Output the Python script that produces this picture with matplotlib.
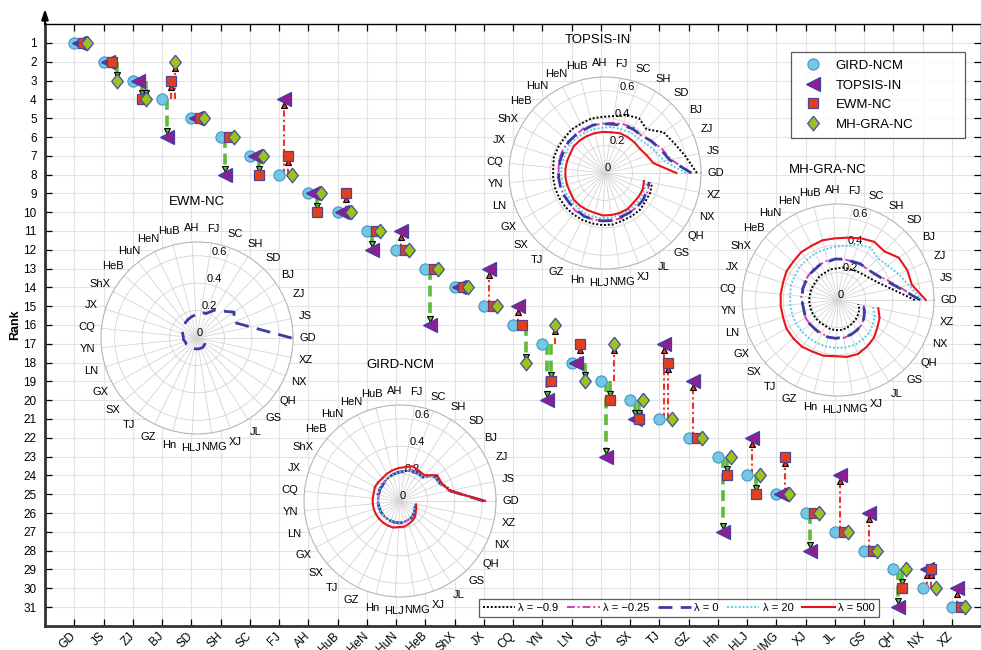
import numpy as np
import matplotlib.pyplot as plt
import matplotlib.transforms as mtransforms
from matplotlib.lines import Line2D

plt.rcParams['font.family'] = ['Liberation Sans', 'DejaVu Sans']

# 省份顺序（按 GIRD-NCM 排名）
provinces = ['GD', 'JS', 'ZJ', 'BJ', 'SD', 'SH', 'SC', 'FJ', 'AH', 'HuB', 'HeN',
             'HuN', 'HeB', 'ShX', 'JX', 'CQ', 'YN', 'LN', 'GX', 'SX', 'TJ', 'GZ',
             'Hn', 'HLJ', 'NMG', 'XJ', 'JL', 'GS', 'QH', 'NX', 'XZ']

# 各方法排名
rank_gird = [1, 2, 3, 4, 5, 6, 7, 8, 9, 10, 11, 12, 13, 14, 15, 16, 17, 18, 19, 20,
             21, 22, 23, 24, 25, 26, 27, 28, 29, 30, 31]
rank_topsis = [1, 2, 3, 6, 5, 8, 7, 4, 9, 10, 12, 11, 16, 14, 13, 15, 20, 18, 23, 21,
               17, 19, 27, 22, 25, 28, 24, 26, 31, 29, 30]
rank_ewm = [1, 2, 4, 3, 5, 6, 8, 7, 10, 9, 11, 12, 13, 14, 15, 16, 19, 17, 20, 21,
            18, 22, 24, 25, 23, 26, 27, 28, 30, 29, 31]
rank_mh = [1, 3, 4, 2, 5, 6, 7, 8, 9, 10, 11, 12, 13, 14, 15, 18, 16, 19, 17, 20,
           21, 22, 23, 24, 25, 26, 27, 28, 29, 30, 31]

# 雷达图数据（不同 λ 下的贴近度）
topsis_m09 = [0.67, 0.60, 0.55, 0.52, 0.44, 0.47, 0.45, 0.42, 0.41, 0.41, 0.40, 0.40, 0.39, 0.39, 0.39, 0.38,
              0.38, 0.38, 0.38, 0.38, 0.38, 0.38, 0.38, 0.38, 0.38, 0.37, 0.37, 0.37, 0.36, 0.36, 0.35]
topsis_m025 = [0.63, 0.49, 0.45, 0.41, 0.38, 0.39, 0.38, 0.37, 0.36, 0.36, 0.36, 0.35, 0.35, 0.35, 0.35, 0.34,
               0.34, 0.34, 0.34, 0.34, 0.35, 0.35, 0.35, 0.35, 0.35, 0.35, 0.34, 0.34, 0.34, 0.34, 0.33]
topsis_0 = [0.63, 0.48, 0.44, 0.41, 0.38, 0.38, 0.37, 0.36, 0.36, 0.36, 0.35, 0.35, 0.35, 0.34, 0.34, 0.34,
            0.34, 0.34, 0.34, 0.34, 0.34, 0.35, 0.35, 0.35, 0.35, 0.34, 0.34, 0.34, 0.34, 0.33, 0.33]
topsis_20 = [0.59, 0.44, 0.40, 0.37, 0.35, 0.35, 0.34, 0.34, 0.33, 0.33, 0.33, 0.33, 0.33, 0.32, 0.32, 0.32,
             0.32, 0.32, 0.32, 0.32, 0.32, 0.33, 0.33, 0.33, 0.33, 0.32, 0.32, 0.32, 0.32, 0.31, 0.31]
topsis_500 = [0.52, 0.36, 0.33, 0.31, 0.31, 0.31, 0.31, 0.30, 0.30, 0.30, 0.30, 0.30, 0.30, 0.29, 0.29, 0.29,
              0.29, 0.29, 0.29, 0.30, 0.30, 0.30, 0.30, 0.31, 0.31, 0.31, 0.31, 0.30, 0.30, 0.30, 0.29]

mh_m09 = [0.56, 0.40, 0.32, 0.28, 0.26, 0.25, 0.24, 0.24, 0.23, 0.23, 0.22, 0.22, 0.21, 0.21, 0.21, 0.21,
          0.21, 0.21, 0.21, 0.21, 0.21, 0.21, 0.22, 0.22, 0.22, 0.21, 0.20, 0.19, 0.18, 0.17, 0.15]
mh_m025 = [0.60, 0.46, 0.38, 0.33, 0.31, 0.31, 0.30, 0.30, 0.30, 0.30, 0.29, 0.29, 0.28, 0.28, 0.27, 0.27,
           0.26, 0.26, 0.27, 0.27, 0.27, 0.27, 0.28, 0.28, 0.28, 0.27, 0.26, 0.25, 0.23, 0.21, 0.19]
mh_0 = [0.60, 0.45, 0.37, 0.33, 0.31, 0.31, 0.30, 0.30, 0.30, 0.29, 0.29, 0.28, 0.28, 0.27, 0.27, 0.26,
        0.26, 0.26, 0.27, 0.27, 0.27, 0.28, 0.28, 0.28, 0.27, 0.27, 0.26, 0.25, 0.23, 0.21, 0.19]
mh_20 = [0.61, 0.53, 0.48, 0.44, 0.42, 0.45, 0.43, 0.40, 0.39, 0.38, 0.38, 0.37, 0.37, 0.36, 0.36, 0.35,
         0.35, 0.35, 0.35, 0.35, 0.35, 0.35, 0.35, 0.35, 0.35, 0.35, 0.34, 0.33, 0.31, 0.29, 0.26]
mh_500 = [0.64, 0.55, 0.55, 0.54, 0.49, 0.50, 0.48, 0.46, 0.45, 0.45, 0.44, 0.44, 0.43, 0.43, 0.42, 0.42,
          0.42, 0.42, 0.43, 0.43, 0.43, 0.42, 0.42, 0.41, 0.42, 0.42, 0.40, 0.38, 0.35, 0.33, 0.30]

ewm_0 = [0.69, 0.40, 0.29, 0.33, 0.27, 0.24, 0.19, 0.19, 0.17, 0.16, 0.15, 0.14, 0.13, 0.12, 0.11, 0.10,
         0.10, 0.09, 0.09, 0.08, 0.08, 0.08, 0.08, 0.08, 0.08, 0.08, 0.08, 0.075, 0.07, 0.06, 0.055]

gird_m09 = [0.62, 0.38, 0.33, 0.32, 0.24, 0.25, 0.24, 0.22, 0.21, 0.20, 0.19, 0.18, 0.18, 0.17, 0.17, 0.16,
            0.16, 0.16, 0.16, 0.16, 0.16, 0.16, 0.16, 0.16, 0.16, 0.15, 0.15, 0.14, 0.13, 0.12, 0.11]
gird_m025 = [0.61, 0.37, 0.32, 0.31, 0.24, 0.24, 0.24, 0.22, 0.21, 0.20, 0.19, 0.18, 0.17, 0.17, 0.16, 0.16,
             0.16, 0.16, 0.16, 0.16, 0.16, 0.16, 0.16, 0.16, 0.16, 0.15, 0.15, 0.14, 0.13, 0.12, 0.11]
gird_0 = [0.61, 0.37, 0.32, 0.31, 0.24, 0.24, 0.23, 0.22, 0.21, 0.20, 0.19, 0.18, 0.17, 0.17, 0.16, 0.16,
          0.16, 0.16, 0.16, 0.16, 0.16, 0.16, 0.16, 0.16, 0.16, 0.15, 0.15, 0.14, 0.13, 0.12, 0.11]
gird_20 = [0.62, 0.37, 0.32, 0.31, 0.24, 0.24, 0.24, 0.22, 0.21, 0.20, 0.19, 0.18, 0.18, 0.17, 0.17, 0.16,
           0.16, 0.16, 0.16, 0.16, 0.16, 0.16, 0.16, 0.16, 0.16, 0.16, 0.15, 0.14, 0.13, 0.12, 0.11]
gird_500 = [0.62, 0.37, 0.33, 0.33, 0.26, 0.26, 0.27, 0.25, 0.24, 0.23, 0.22, 0.21, 0.21, 0.21, 0.20, 0.20,
            0.20, 0.20, 0.20, 0.20, 0.20, 0.20, 0.20, 0.19, 0.19, 0.18, 0.17, 0.16, 0.14, 0.13, 0.12]

lambdas = ['λ = −0.9', 'λ = −0.25', 'λ = 0', 'λ = 20', 'λ = 500']
lam_styles = [dict(color='black', ls=(0, (1, 1)), lw=1.4),
              dict(color='#d13fb0', ls=(0, (4, 1.5, 1, 1.5)), lw=1.4),
              dict(color='#3b3ba5', ls=(0, (5, 3)), lw=2.0),
              dict(color='#5fc9e6', ls=(0, (1, 1)), lw=1.4),
              dict(color='#e8141c', ls='-', lw=1.5)]

W, H = 981, 650
fig = plt.figure(figsize=(W / 100, H / 100), dpi=100)

# ---------------- 主图：排名对比 ----------------
ax = fig.add_axes([45 / W, (H - 625.8) / H, 936 / W, 601.6 / H])
x = np.arange(len(provinces))

diamond = [(0, 1), (0.8, 0), (0, -1), (-0.8, 0), (0, 1)]
methods = [
    (rank_gird, 0.0, 'o', 8, '#74c6e5', '#4f9cc6', 'GIRD-NCM'),
    (rank_topsis, 0.17, '<', 9.5, '#8e1f8e', '#3f3fa8', 'TOPSIS-IN'),
    (rank_ewm, 0.30, 's', 7, '#e2401d', '#55408e', 'EWM-NC'),
    (rank_mh, 0.45, diamond, 10.5, '#9dc21c', '#3f4fa0', 'MH-GRA-NC'),
]

# 排名变化箭头：下降为绿色虚线，上升为红色点划线
for ranks, off, *_ in methods[1:]:
    for i in range(len(provinces)):
        y0, y1 = rank_gird[i], ranks[i]
        if y1 == y0:
            continue
        xx = x[i] + off
        if y1 > y0:
            yend = y1 - 0.32
            ax.plot([xx, xx], [y0, yend], color='#5dbb3a', lw=2.6, ls=(0, (3, 1.6)), zorder=2)
            ax.plot(xx, yend, marker='v', ms=4, mfc='#5dbb3a', mec='black', mew=0.8, zorder=2.5)
        else:
            yend = y1 + 0.32
            ax.plot([xx, xx], [y0, yend], color='#f0302a', lw=1.5, ls=(0, (3, 1.5, 1, 1.5)), zorder=2)
            ax.plot(xx, yend, marker='^', ms=4, mfc='#f0302a', mec='black', mew=0.8, zorder=2.5)

handles = []
for ranks, off, mk, ms, fc, ec, name in methods:
    h, = ax.plot(x + off, ranks, ls='none', marker=mk, ms=ms, mfc=fc, mec=ec, mew=0.9,
                 zorder=3, label=name)
    handles.append(h)

ax.set_xlim(-1, 31)
ax.set_ylim(32, 0)
ax.set_yticks(range(1, 32))
ax.set_xticks(x)
ax.set_xticklabels(provinces, rotation=45, ha='right', va='center', rotation_mode='anchor', fontsize=8.5)
shift = mtransforms.ScaledTranslation(0.04, 0, fig.dpi_scale_trans)
for lab in ax.get_xticklabels():
    lab.set_transform(lab.get_transform() + shift)
ax.tick_params(axis='both', direction='in', top=True, right=True, length=5, width=0.9, labelsize=8.5)
ax.tick_params(axis='x', pad=6)
ax.tick_params(axis='y', pad=6)
ax.grid(True, color='#e3e3e3', lw=0.8)
ax.set_axisbelow(True)
for s in ['left', 'bottom']:
    ax.spines[s].set_linewidth(2.0)
    ax.spines[s].set_color('#333333')
ax.spines['top'].set_linewidth(1.0)
ax.spines['right'].set_linewidth(1.0)
ax.set_ylabel('Rank', fontsize=9, fontweight='bold', labelpad=2)

# 纵轴顶端箭头
ax.annotate('', xy=(0, 1.03), xycoords='axes fraction', xytext=(0, 0.995),
            arrowprops=dict(arrowstyle='-|>,head_length=0.6,head_width=0.2', color='black', lw=1.5),
            annotation_clip=False)

leg1 = ax.legend(handles=handles, loc='upper left', bbox_to_anchor=(0.797, 0.81, 0.186, 0.144),
                 mode='expand', borderaxespad=0, fontsize=9.5, frameon=True, fancybox=False,
                 edgecolor='#333333', labelspacing=0.55, handletextpad=0.6,
                 borderpad=0.6, handlelength=2.2)
leg1.get_frame().set_linewidth(0.9)
ax.add_artist(leg1)

lam_handles = [Line2D([], [], **st) for st in lam_styles]
leg2 = ax.legend(lam_handles, lambdas, loc='lower left', bbox_to_anchor=(0.4637, 0.0146),
                 borderaxespad=0, ncol=5, fontsize=8, frameon=True, fancybox=False,
                 edgecolor='#333333', handlelength=2.9, handletextpad=0.3,
                 columnspacing=0.8, borderpad=0.35)
leg2.get_frame().set_linewidth(0.9)

# ---------------- 嵌入雷达图 ----------------
theta = np.linspace(0, 2 * np.pi, len(provinces), endpoint=False)
R = 96


def radar(cx, cy, title, tx, ty, series):
    pax = fig.add_axes([(cx - R) / W, (H - cy - R) / H, 2 * R / W, 2 * R / H], projection='polar')
    pax.set_facecolor('white')
    for vals, st in series:
        pax.plot(theta, vals, zorder=3, **st)
    pax.set_ylim(0, 0.7)
    pax.set_yticks([0, 0.2, 0.4, 0.6])
    pax.set_yticklabels(['0', '0.2', '0.4', '0.6'], fontsize=8)
    pax.set_rlabel_position(80)
    pax.set_thetagrids(np.degrees(theta), provinces, fontsize=8)
    pax.tick_params(axis='x', pad=0)
    pax.grid(True, color='#d4d4d4', lw=0.6)
    pax.spines['polar'].set_color('#b5b5b5')
    pax.spines['polar'].set_linewidth(0.8)
    fig.text(tx / W, 1 - ty / H, title, ha='center', va='center', fontsize=9.5)
    return pax


radar(605, 173, 'TOPSIS-IN', 598, 40,
      list(zip([topsis_m09, topsis_m025, topsis_0, topsis_20, topsis_500], lam_styles)))
radar(838, 300, 'MH-GRA-NC', 828, 170,
      list(zip([mh_m09, mh_m025, mh_0, mh_20, mh_500], lam_styles)))
radar(197, 338, 'EWM-NC', 197, 202, [(ewm_0, lam_styles[2])])
radar(400, 501, 'GIRD-NCM', 400, 365,
      list(zip([gird_m09, gird_m025, gird_0, gird_20, gird_500], lam_styles)))

fig.savefig('out.png', dpi=100)
